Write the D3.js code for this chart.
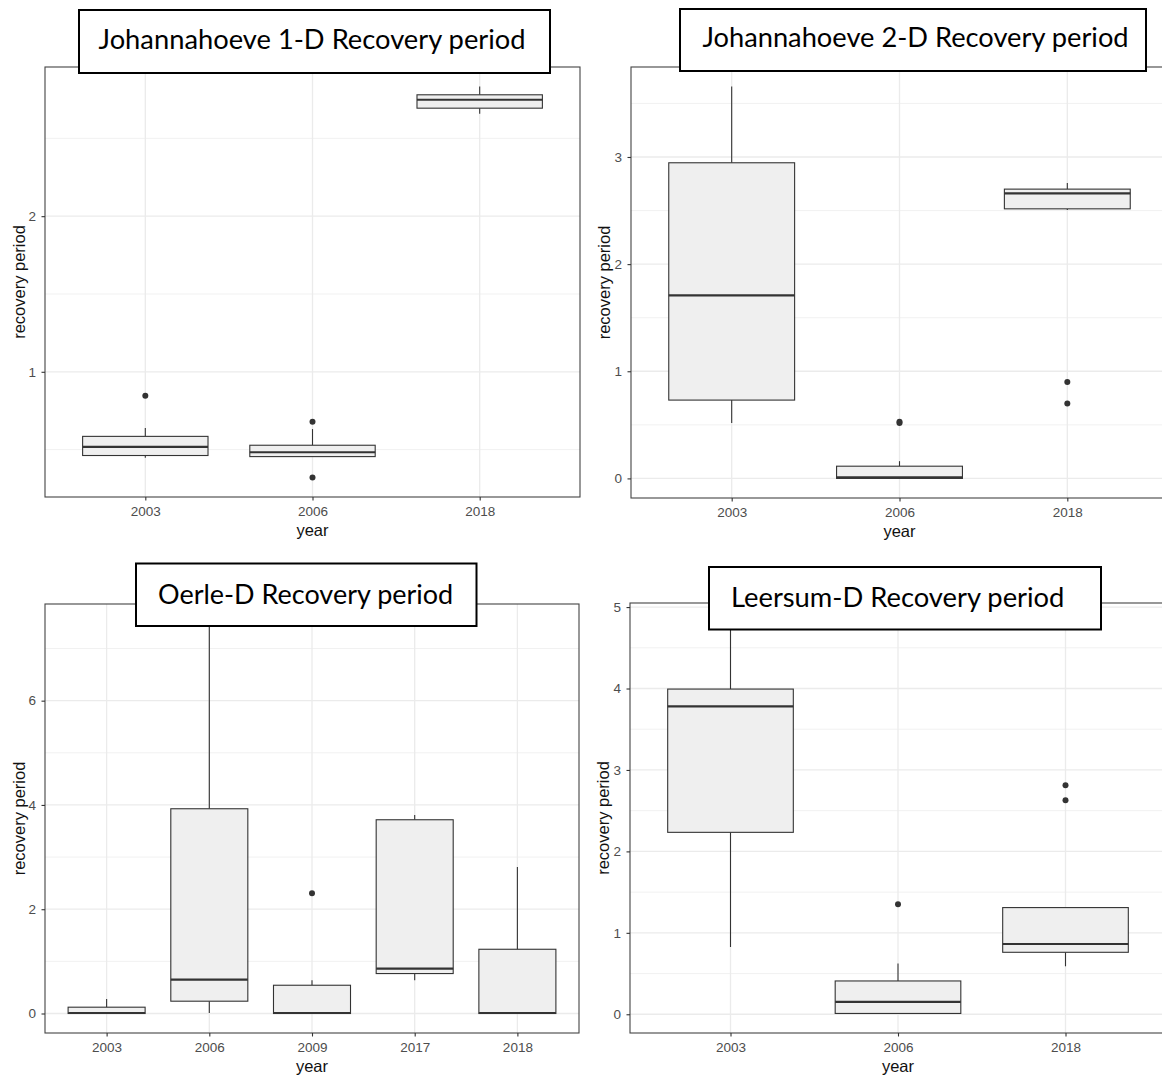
<!DOCTYPE html>
<html>
<head>
<meta charset="utf-8">
<script src="https://cdn.jsdelivr.net/npm/d3@7"></script>
<style>
  html, body { margin: 0; padding: 0; background: #fff; }
  svg { display: block; }
</style>
</head>
<body>
<svg id="chart" width="1162" height="1075"></svg>
<script>
// ---- data ----
// box stats per year: [lower whisker, q1, median, q3, upper whisker]
const j1Years = ["2003", "2006", "2018"];
const j1Stats = [
  [0.447, 0.462, 0.517, 0.585, 0.639],
  [0.455, 0.455, 0.483, 0.528, 0.632],
  [2.658, 2.694, 2.748, 2.780, 2.833]
];
const j1Outliers = [[0.846], [0.679, 0.321], []];
const j1Ticks = [1, 2];

const j2Years = ["2003", "2006", "2018"];
const j2Stats = [
  [0.517, 0.731, 1.708, 2.946, 3.657],
  [0.000, 0.000, 0.010, 0.114, 0.161],
  [2.506, 2.516, 2.661, 2.700, 2.758]
];
const j2Outliers = [[], [0.518, 0.528], [0.900, 0.699]];
const j2Ticks = [0, 1, 2, 3];

const oeYears = ["2003", "2006", "2009", "2017", "2018"];
const oeStats = [
  [0.000, 0.000, 0.010, 0.121, 0.280],
  [0.010, 0.236, 0.651, 3.927, 7.480],
  [0.000, 0.000, 0.010, 0.542, 0.638],
  [0.638, 0.766, 0.862, 3.716, 3.806],
  [0.000, 0.000, 0.010, 1.232, 2.810]
];
const oeOutliers = [[], [], [2.305], [], []];
const oeTicks = [0, 2, 4, 6];

const leYears = ["2003", "2006", "2018"];
const leStats = [
  [0.826, 2.234, 3.781, 3.993, 4.810],
  [0.010, 0.010, 0.151, 0.409, 0.622],
  [0.589, 0.761, 0.863, 1.310, 1.310]
];
const leOutliers = [[], [1.35], [2.811, 2.627]];
const leTicks = [0, 1, 2, 3, 4, 5];

// ---- layout ----
const panels = [
  { years: j1Years, stats: j1Stats, outliers: j1Outliers, ticks: j1Ticks,
    title: "Johannahoeve 1-D Recovery period",
    frame: { x: 45, y: 67, w: 535, h: 430 }, yTitleX: 19.5,
    titleBox: [79, 10, 550, 73], titleText: [98.6, 525.6, 48.7] },
  { years: j2Years, stats: j2Stats, outliers: j2Outliers, ticks: j2Ticks,
    title: "Johannahoeve 2-D Recovery period",
    frame: { x: 631, y: 67, w: 537, h: 431 }, yTitleX: 604,
    titleBox: [680, 9, 1146, 71], titleText: [702.5, 1128.6, 47] },
  { years: oeYears, stats: oeStats, outliers: oeOutliers, ticks: oeTicks,
    title: "Oerle-D Recovery period",
    frame: { x: 45, y: 604, w: 534, h: 429 }, yTitleX: 19,
    titleBox: [136, 563.5, 476.5, 626], titleText: [158, 453.2, 604.3] },
  { years: leYears, stats: leStats, outliers: leOutliers, ticks: leTicks,
    title: "Leersum-D Recovery period",
    frame: { x: 630, y: 603, w: 536, h: 430 }, yTitleX: 603.5,
    titleBox: [709, 567, 1101, 629.5], titleText: [731, 1064.4, 606.7] }
];

const svg = d3.select("#chart");
const tickFont = "'Liberation Sans', Arial, sans-serif";

panels.forEach(p => drawPanel(p));
panels.forEach(p => drawTitle(p));

function drawPanel(p) {
  const f = p.frame;
  const g = svg.append("g");

  // y domain from data with ggplot's 5% expansion
  const all = p.stats.flat().concat(p.outliers.flat());
  const lo = d3.min(all), hi = d3.max(all);
  const pad = (hi - lo) * 0.05;
  const y = d3.scaleLinear().domain([lo - pad, hi + pad]).range([f.y + f.h, f.y]);
  const x = d3.scalePoint().domain(p.years).range([f.x, f.x + f.w]).padding(0.6);
  const bw = x.step() * 0.75;

  // minor grid at midpoints of the major breaks
  const step = p.ticks[1] - p.ticks[0];
  const minor = d3.range(p.ticks[0] - step / 2, hi + pad + step, step)
    .filter(v => v > y.domain()[0] && v < y.domain()[1]);

  g.append("rect")
    .attr("x", f.x).attr("y", f.y).attr("width", f.w).attr("height", f.h)
    .attr("fill", "#fff");

  g.selectAll("line.minor").data(minor).join("line")
    .attr("x1", f.x).attr("x2", f.x + f.w)
    .attr("y1", d => y(d)).attr("y2", d => y(d))
    .attr("stroke", "#ebebeb").attr("stroke-width", 0.7);

  g.selectAll("line.hmajor").data(p.ticks).join("line")
    .attr("x1", f.x).attr("x2", f.x + f.w)
    .attr("y1", d => y(d)).attr("y2", d => y(d))
    .attr("stroke", "#ebebeb").attr("stroke-width", 1.3);

  g.selectAll("line.vmajor").data(p.years).join("line")
    .attr("x1", d => x(d)).attr("x2", d => x(d))
    .attr("y1", f.y).attr("y2", f.y + f.h)
    .attr("stroke", "#ebebeb").attr("stroke-width", 1.3);

  // boxes
  const boxes = g.selectAll("g.box")
    .data(p.years.map((yr, i) => ({ yr, s: p.stats[i], out: p.outliers[i] })))
    .join("g").attr("class", "box");

  boxes.append("line")
    .attr("x1", d => x(d.yr)).attr("x2", d => x(d.yr))
    .attr("y1", d => y(d.s[4])).attr("y2", d => y(d.s[3]))
    .attr("stroke", "#333").attr("stroke-width", 1.1);
  boxes.append("line")
    .attr("x1", d => x(d.yr)).attr("x2", d => x(d.yr))
    .attr("y1", d => y(d.s[1])).attr("y2", d => y(d.s[0]))
    .attr("stroke", "#333").attr("stroke-width", 1.1);
  boxes.append("rect")
    .attr("x", d => x(d.yr) - bw / 2).attr("width", bw)
    .attr("y", d => y(d.s[3])).attr("height", d => y(d.s[1]) - y(d.s[3]))
    .attr("fill", "#efefef").attr("stroke", "#333").attr("stroke-width", 1.1);
  boxes.append("line")
    .attr("x1", d => x(d.yr) - bw / 2).attr("x2", d => x(d.yr) + bw / 2)
    .attr("y1", d => y(d.s[2])).attr("y2", d => y(d.s[2]))
    .attr("stroke", "#333").attr("stroke-width", 2.2);
  boxes.selectAll("circle").data(d => d.out.map(v => ({ yr: d.yr, v }))).join("circle")
    .attr("cx", d => x(d.yr)).attr("cy", d => y(d.v)).attr("r", 3)
    .attr("fill", "#333");

  // panel border
  g.append("rect")
    .attr("x", f.x).attr("y", f.y).attr("width", f.w).attr("height", f.h)
    .attr("fill", "none").attr("stroke", "#444").attr("stroke-width", 1.1);

  // axes
  const ax = g.append("g").attr("transform", `translate(0,${f.y + f.h})`)
    .call(d3.axisBottom(x).tickSize(3.5).tickPadding(5.5));
  const ay = g.append("g").attr("transform", `translate(${f.x},0)`)
    .call(d3.axisLeft(y).tickValues(p.ticks).tickFormat(d3.format("d")).tickSize(3.5).tickPadding(5.5));
  [ax, ay].forEach(a => {
    a.select(".domain").remove();
    a.selectAll(".tick line").attr("stroke", "#333").attr("stroke-width", 1.1);
    a.selectAll(".tick text").attr("fill", "#4d4d4d")
      .style("font-family", tickFont).style("font-size", "13.5px");
  });

  g.append("text")
    .attr("x", x(p.years[Math.floor(p.years.length / 2)]))
    .attr("y", f.y + f.h + 33).attr("dy", "0.35em")
    .attr("text-anchor", "middle")
    .style("font-family", tickFont).style("font-size", "16.5px").attr("fill", "#111")
    .text("year");

  g.append("text")
    .attr("transform", `translate(${p.yTitleX},${f.y + f.h / 2}) rotate(-90)`)
    .attr("dy", "0.35em").attr("text-anchor", "middle")
    .style("font-family", tickFont).style("font-size", "16.5px").attr("fill", "#111")
    .text("recovery period");
}

function drawTitle(p) {
  const [x0, y0, x1, y1] = p.titleBox;
  const [tx0, tx1, ty] = p.titleText;
  svg.append("rect")
    .attr("x", x0).attr("y", y0).attr("width", x1 - x0).attr("height", y1 - y0)
    .attr("fill", "#fff").attr("stroke", "#000").attr("stroke-width", 2);
  svg.append("text")
    .attr("x", tx0).attr("y", ty)
    .attr("textLength", tx1 - tx0).attr("lengthAdjust", "spacingAndGlyphs")
    .style("font-family", "Lato, 'Open Sans', sans-serif").style("font-size", "27px")
    .attr("fill", "#000")
    .text(p.title);
}
</script>
</body>
</html>
